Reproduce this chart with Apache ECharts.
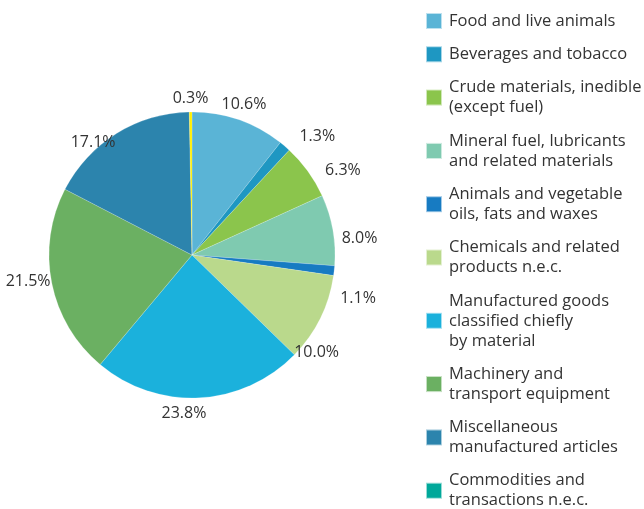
<!DOCTYPE html>
<html>
<head>
<meta charset="utf-8">
<script src="https://cdn.jsdelivr.net/npm/echarts@6/dist/echarts.min.js"></script>
<style>
  html, body { margin: 0; padding: 0; background: #fff; }
  #chart { width: 644px; height: 509px; }
</style>
</head>
<body>
<div id="chart"></div>
<script>
// Trade by SITC section, share of total (%)
const categories = [
  'Food and live animals',
  'Beverages and tobacco',
  'Crude materials, inedible\n(except fuel)',
  'Mineral fuel, lubricants\nand related materials',
  'Animals and vegetable\noils, fats and waxes',
  'Chemicals and related\nproducts n.e.c.',
  'Manufactured goods\nclassified chiefly\nby material',
  'Machinery and\ntransport equipment',
  'Miscellaneous\nmanufactured articles',
  'Commodities and\ntransactions n.e.c.'
];
const shares = [10.6, 1.3, 6.3, 8.0, 1.1, 10.0, 23.8, 21.5, 17.1, 0.3];

// slice colours, and the swatch colours shown in the legend
const sliceColors = ['#5ab4d6', '#1e97c2', '#8bc54c', '#7fcab0', '#177bc2',
                     '#bad98c', '#1bb1dc', '#6bb062', '#2c84ad', '#fff000'];
const swatchColors = ['#5ab4d6', '#1e97c2', '#8bc54c', '#7fcab0', '#177bc2',
                      '#bad98c', '#1bb1dc', '#6bb062', '#2c84ad', '#00a89a'];

// hand-tuned label nudges [dx, dy] in px, so labels clear each other
const labelNudge = [[0, 0], [22, 2], [22, 8], [11, 11], [8, 26],
                    [-18, 27], [-16, 0], [-8, -5], [-15, 22], [0, 2]];

const CX = 192, CY = 255, R = 143, LABEL_R = 159;
const total = shares.reduce((a, b) => a + b, 0);
const startShare = [];
shares.reduce((acc, v) => { startShare.push(acc); return acc + v; }, 0);

const chart = echarts.init(document.getElementById('chart'), null, { renderer: 'canvas' });

const textColor = '#333333';
const fontFamily = '"Open Sans", "Noto Sans", sans-serif';

chart.setOption({
  animation: false,
  backgroundColor: '#ffffff',
  legend: {
    orient: 'vertical',
    left: 425,
    top: 11,
    height: 600,
    padding: 0,
    itemWidth: 16,
    itemHeight: 16,
    itemGap: 13.3,
    icon: 'rect',
    selectedMode: false,
    data: categories.map((name, i) => ({ name, itemStyle: { color: swatchColors[i] } })),
    textStyle: {
      color: textColor,
      fontFamily,
      fontSize: 16.5,
      lineHeight: 20,
      padding: [0, 0, 0, 2]
    }
  },
  series: [{
    type: 'pie',
    center: [CX, CY],
    radius: [0, R],
    startAngle: 90,
    clockwise: true,
    avoidLabelOverlap: false,
    data: categories.map((name, i) => ({
      name,
      value: shares[i],
      itemStyle: { color: sliceColors[i] }
    })),
    itemStyle: { borderColor: 'rgba(255,255,255,0.6)', borderWidth: 0.3 },
    label: {
      show: true,
      position: 'outside',
      formatter: p => shares[p.dataIndex].toFixed(1) + '%',
      color: textColor,
      fontFamily,
      fontSize: 16
    },
    labelLine: { show: false },
    emphasis: { disabled: true },
    labelLayout: function (params) {
      const i = params.dataIndex;
      const mid = (startShare[i] + shares[i] / 2) / total * 2 * Math.PI;
      return {
        x: CX + LABEL_R * Math.sin(mid) + labelNudge[i][0],
        y: CY - LABEL_R * Math.cos(mid) + labelNudge[i][1],
        align: 'center',
        verticalAlign: 'middle'
      };
    }
  }]
});
</script>
</body>
</html>
